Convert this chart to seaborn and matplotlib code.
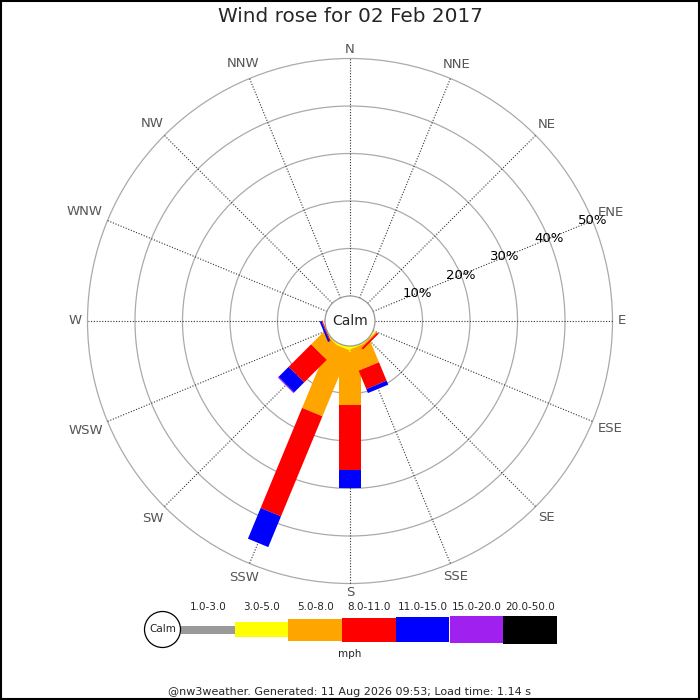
import matplotlib
matplotlib.use("Agg")
import numpy as np
import matplotlib.pyplot as plt
from matplotlib.patches import Rectangle, Circle
from matplotlib.transforms import Affine2D
import seaborn as sns

# Wind rose data (percent of time per direction, per speed band)
directions = ["N", "NNE", "NE", "ENE", "E", "ESE", "SE", "SSE",
              "S", "SSW", "SW", "WSW", "W", "WNW", "NW", "NNW"]
speed_bands = ["1.0-3.0", "3.0-5.0", "5.0-8.0", "8.0-11.0",
               "11.0-15.0", "15.0-20.0", "20.0-50.0"]
band_colors = ["#999999", "#ffff00", "#ffa500", "#ff0000",
               "#0000ff", "#a020f0", "#000000"]

#            N  NNE NE ENE E ESE  SE   SSE   S     SSW   SW   WSW  W WNW NW NNW
pct_1_3   = [0, 0, 0, 0, 0, 0, 0.0, 0.0, 0.0,  0.0,  0.0, 0.0, 0, 0, 0, 0]
pct_3_5   = [0, 0, 0, 0, 0, 0, 0.2, 0.3, 1.3,  0.5,  0.3, 0.0, 0, 0, 0, 0]
pct_5_8   = [0, 0, 0, 0, 0, 0, 0.3, 4.8, 11.1, 15.0, 3.7, 0.1, 0, 0, 0, 0]
pct_8_11  = [0, 0, 0, 0, 0, 0, 0.4, 4.2, 13.7, 22.8, 6.7, 0.2, 0, 0, 0, 0]
pct_11_15 = [0, 0, 0, 0, 0, 0, 0.0, 0.9, 3.9,  7.0,  3.0, 0.4, 0, 0, 0, 0]
pct_15_20 = [0, 0, 0, 0, 0, 0, 0.0, 0.0, 0.0,  0.0,  0.2, 0.0, 0, 0, 0, 0]
pct_20_50 = [0, 0, 0, 0, 0, 0, 0.0, 0.0, 0.0,  0.0,  0.0, 0.0, 0, 0, 0, 0]
band_values = [pct_1_3, pct_3_5, pct_5_8, pct_8_11, pct_11_15, pct_15_20, pct_20_50]

ring_pcts = [10, 20, 30, 40, 50]
legend_heights = [8, 15, 22, 24, 25, 27, 28]   # px, legend swatch heights

title = "Wind rose for 02 Feb 2017"
footer = "@nw3weather. Generated: 11 Aug 2026 09:53; Load time: 1.14 s"

sns.set_theme(style="white")
plt.rcParams["font.family"] = ["DejaVu Sans"]

# geometry (1 data unit = 1 percent)
px = 4.75            # pixels per percent
calm_r = 25 / px     # calm circle radius
bar_w = 22 / px      # constant bar width
cx, cy = 350, 321    # centre in image pixels

fig = plt.figure(figsize=(7, 7), dpi=100)
ax = fig.add_axes([0, 0, 1, 1])
ax.set_xlim(-cx / px, (700 - cx) / px)
ax.set_ylim(-(700 - cy) / px, cy / px)
ax.axis("off")


def rot(bearing):
    # rotate a "north-pointing" frame clockwise to the bearing
    return Affine2D().rotate_deg(-bearing) + ax.transData


# rings
for p in ring_pcts:
    ax.add_patch(Circle((0, 0), calm_r + p, fill=False, ec="#aaaaaa", lw=0.9, zorder=1))

# spokes and direction labels
r_out = calm_r + ring_pcts[-1]
dir_texts = []
for i, name in enumerate(directions):
    b = i * 22.5
    ax.plot([0, 0], [calm_r, r_out], color="#333333", lw=0.8,
            ls=(0, (1, 1.5)), transform=rot(b), zorder=1)
    t = ax.text(0, 270 / px, name, transform=rot(b), ha="center", va="center",
                fontsize=9.5, color="#555555", zorder=3)
    dir_texts.append(t)

# push each label out so its near edge sits just outside the outer ring
fig.canvas.draw()
renderer = fig.canvas.get_renderer()
for i, t in enumerate(dir_texts):
    b = np.radians(i * 22.5)
    bb = t.get_window_extent(renderer)
    half = abs(np.sin(b)) * bb.width / 2 + abs(np.cos(b)) * bb.height / 2
    t.set_position((0, (265 + 3 * abs(np.sin(b)) + half) / px))

# ring labels along ENE
for p in ring_pcts:
    ax.text(0, calm_r + p, f"{p}%", transform=rot(67.5), ha="center",
            va="center", fontsize=9.5, color="black", zorder=5)

# stacked bars, drawn layer by layer
cum = [0.0] * len(directions)
for k, vals in enumerate(band_values):
    for i, v in enumerate(vals):
        if v > 0:
            ax.add_patch(Rectangle((-bar_w / 2, calm_r + cum[i]), bar_w, v,
                                   fc=band_colors[k], ec="none",
                                   transform=rot(i * 22.5), zorder=2 + k * 0.1))
        cum[i] += v

# calm circle
ax.add_patch(Circle((0, 0), calm_r, fc="white", ec="#999999", lw=0.9, zorder=4))
ax.text(0, 0, "Calm", ha="center", va="center", fontsize=10, zorder=5)

# legend in pixel coordinates
lg = fig.add_axes([0, 0, 1, 1])
lg.set_xlim(0, 700)
lg.set_ylim(700, 0)
lg.axis("off")
lg.patch.set_alpha(0)
sw = 53.7
x0 = 181
ly = 629.5
for k, lab in enumerate(speed_bands):
    h = legend_heights[k]
    lg.bar(x0 + sw * (k + 0.5), h, width=sw, bottom=ly - h / 2,
           color=band_colors[k], edgecolor="none", zorder=2)
    lg.text(x0 + sw * (k + 0.5), 607, lab, ha="center", va="center", fontsize=7.5)
lg.add_patch(Circle((162.5, ly), 18, fc="white", ec="black", lw=0.9, zorder=3))
lg.text(162.5, ly, "Calm", ha="center", va="center", fontsize=7.5, zorder=4)
lg.text(350, 654, "mph", ha="center", va="center", fontsize=7.5)

fig.text(0.5, 1 - 17 / 700, title, ha="center", va="center", fontsize=14.4)
fig.text(0.5, 1 - 692 / 700, footer, ha="center", va="center", fontsize=8)

# outer frame
fig.patches.append(Rectangle((0.001, 0.001), 0.997, 0.997, transform=fig.transFigure,
                             fill=False, ec="black", lw=1.5))

fig.savefig("out.png", dpi=100, facecolor="white")
